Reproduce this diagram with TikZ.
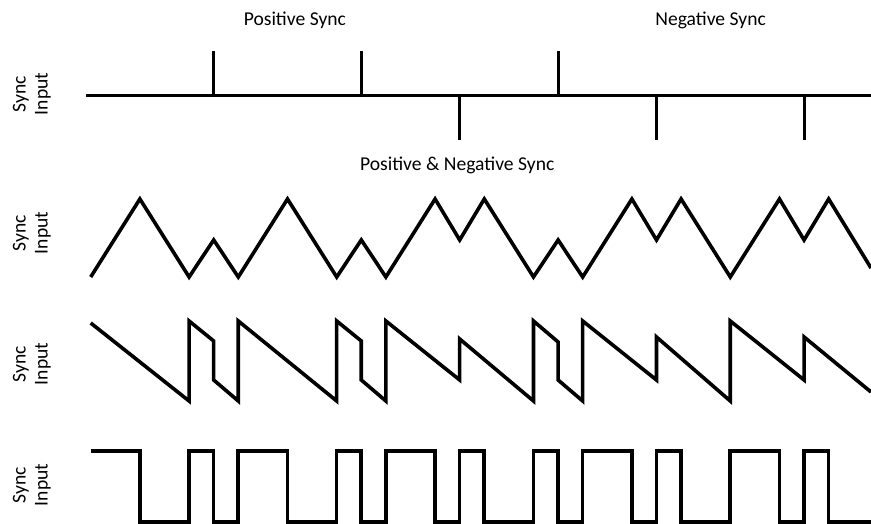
\documentclass[tikz,border=0pt]{standalone}
\usepackage{fontspec}
\setmainfont{Carlito}
\usepackage{tikz}
\usetikzlibrary{positioning}

\begin{document}
\begin{tikzpicture}[x=12.3pt, y=-0.5pt,
  every node/.style={font=\fontsize{9.8}{11}\selectfont},
  wave/.style={line width=1.8pt, line join=miter},
  pulse/.style={line width=1.5pt}]
\useasboundingbox (-3.687,0) rectangle (31.72,524);
% titles
\node (pos) at (8.3,20) {Positive Sync};
\node (neg) at (25.2,20) {Negative Sync};
\node (both) at (14.9,165) {Positive \& Negative Sync};
% row labels
\foreach \name/\y in {lpulse/94, ltri/233, lsaw/364, lsq/485}
  \node[rotate=90, align=center, inner sep=0pt] (\name) at (-2.39,\y) {Sync\\Input};
% sync pulses
\coordinate (start) at (-0.19,96);
\coordinate (end) at (31.72,96);
\draw[pulse] (start) -- (end);
\foreach \k in {5,11,19} \draw[pulse] (\k,96) -- (\k,51);
\foreach \k in {15,23,29} \draw[pulse] (\k,96) -- (\k,140);
% triangle
\draw[wave] (0,277) -- (2,199) -- (4,277) -- (5,240) -- (6,277) -- (8,199)
  -- (10,277) -- (11,240) -- (12,277) -- (14,199) -- (15,240) -- (16,199)
  -- (18,277) -- (19,240) -- (20,277) -- (22,199) -- (23,240) -- (24,199)
  -- (26,277) -- (28,199) -- (29,240) -- (30,199) -- (31.72,268);
% sawtooth
\draw[wave] (0,323) -- (4,401) -- (4,321) -- (5,341) -- (5,380) -- (6,401)
  -- (6,321) -- (10,401) -- (10,321) -- (11,341) -- (11,380) -- (12,401)
  -- (12,321) -- (15,380) -- (15,339) -- (18,401) -- (18,321) -- (19,342)
  -- (19,380) -- (20,401) -- (20,321) -- (23,380) -- (23,337) -- (26,401)
  -- (26,321) -- (29,380) -- (29,337) -- (31.72,392);
% square
\draw[wave] (0,451) -| (2,522) -| (4,451) -| (5,522) -| (6,451) -| (8,522)
  -| (10,451) -| (11,522) -| (12,451) -| (14,522) -| (15,451) -| (16,522)
  -| (18,451) -| (19,522) -| (20,451) -| (22,522) -| (23,451) -| (24,522)
  -| (26,451) -| (28,522) -| (29,451) -| (30,522) -- (31.72,522);
\end{tikzpicture}
\end{document}
